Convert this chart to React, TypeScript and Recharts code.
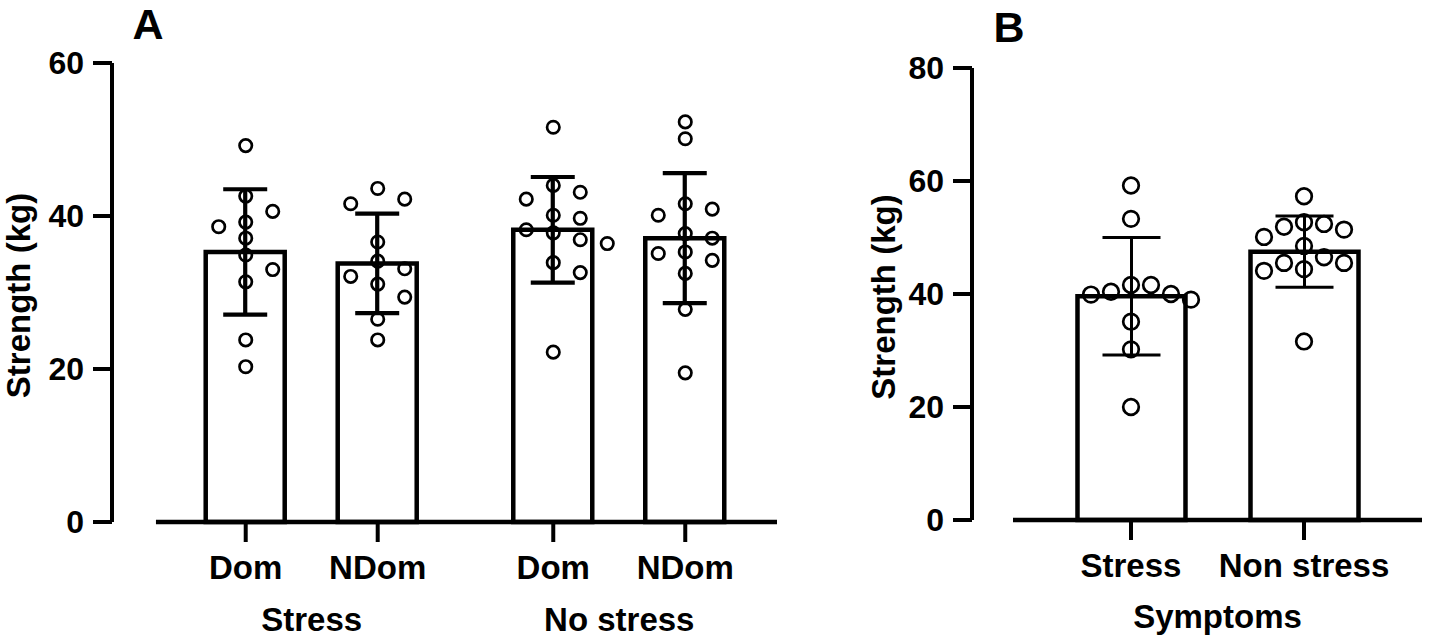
import { ComposedChart, Bar, ErrorBar, Scatter, XAxis, YAxis, ReferenceLine } from 'recharts';

const FONT = "'Liberation Sans', Arial, Helvetica, sans-serif";

// Panel A: grip strength, dominant / non-dominant hand, by stress group
const stressGroups = ['Stress', 'No stress'];
const handLabels = ['Dom', 'NDom'];
const panelAMeans = [35.3, 33.8, 38.2, 37.1];
const panelASd = [8.2, 6.5, 6.9, 8.5];
const stressDom = [49.2, 42.6, 40.6, 38.6, 39.2, 37.1, 34.9, 33.0, 31.4, 23.8, 20.3];
const stressNDom = [43.6, 42.2, 41.6, 36.6, 34.1, 33.1, 32.1, 31.1, 29.4, 26.5, 23.8];
const noStressDom = [51.6, 44.0, 43.1, 42.2, 40.1, 39.7, 38.2, 37.8, 36.9, 36.4, 33.9, 32.6, 22.2];
const noStressNDom = [52.3, 50.1, 41.6, 40.9, 40.1, 37.7, 37.1, 35.3, 35.1, 34.2, 32.5, 27.8, 19.5];

// Panel B: strength by symptoms
const symptomLabels = ['Stress', 'Non stress'];
const symptomTitle = 'Symptoms';
const panelBMeans = [39.6, 47.5];
const panelBSd = [10.4, 6.3];
const symptomStress = [59.2, 53.3, 41.6, 41.6, 40.4, 40.0, 39.9, 39.0, 35.1, 30.2, 20.0];
const symptomNonStress = [57.3, 52.7, 52.4, 51.9, 51.4, 50.1, 48.5, 46.5, 45.5, 45.5, 44.4, 44.1, 31.6];

const yLabel = 'Strength (kg)';

// simple beeswarm: horizontal pixel offsets so circles do not overlap
function swarm(values: number[], pxPerUnit: number, diam: number, step: number) {
  const order = values.map((_, i) => i).sort((a, b) => values[b] - values[a]);
  const placed: { x: number; y: number }[] = [];
  const dx = values.map(() => 0);
  for (const i of order) {
    const y = values[i] * pxPerUnit;
    for (let k = 0; k < 30; k++) {
      const cand = k === 0 ? 0 : (k % 2 === 1 ? 1 : -1) * Math.ceil(k / 2) * step;
      if (placed.every((p) => Math.hypot(p.x - cand, p.y - y) >= diam)) {
        dx[i] = cand;
        placed.push({ x: cand, y });
        break;
      }
    }
  }
  return dx;
}

const sameNum = (a: number, b: number) => Math.abs(a - b) < 1e-6;

interface PanelProps {
  left: number;
  width: number;
  margin: { top: number; right: number; bottom: number; left: number };
  yAxisWidth: number;
  yMax: number;
  yTicks: number[];
  positions: number[];
  tickLabels: string[];
  groupPositions: number[];
  groupLabels: string[];
  domain: [number, number];
  axisStart: number;
  means: number[];
  sds: number[];
  sets: number[][];
  barSize: number;
  capHalf: number;
  errWidth: number;
  dotR: number;
  step: number;
  yLabelX: number;
  groupMargin: number;
}

function AxisTitle({ viewBox, x }: any) {
  const cy = viewBox.y + viewBox.height / 2 + 3;
  return (
    <text
      x={x}
      y={cy}
      transform={`rotate(-90 ${x} ${cy})`}
      textAnchor="middle"
      dominantBaseline="central"
      fontFamily={FONT}
      fontWeight="bold"
      fontSize={33}
      fill="#000"
    >
      {yLabel}
    </text>
  );
}

function Panel(p: PanelProps) {
  const height = 637;
  const plotH = height - p.margin.top - p.margin.bottom - 110;
  const pxPerUnit = plotH / p.yMax;
  const bars = p.positions.map((pos, i) => ({ pos, mean: p.means[i], sd: p.sds[i] }));
  const points = p.sets.flatMap((vals, i) => {
    const dx = swarm(vals, pxPerUnit, p.dotR * 2 + 3, p.step);
    return vals.map((v, j) => ({ pos: p.positions[i], value: v, dx: dx[j] }));
  });
  const tickStyle = { fontFamily: FONT, fontWeight: 'bold', fill: '#000' };

  return (
    <div style={{ position: 'absolute', left: p.left, top: 0 }}>
      <ComposedChart width={p.width} height={height} data={bars} margin={p.margin}>
        <XAxis
          xAxisId="bars"
          type="number"
          dataKey="pos"
          domain={p.domain}
          allowDataOverflow
          ticks={p.positions}
          interval={0}
          tickFormatter={(v: number) => p.tickLabels[p.positions.findIndex((q) => sameNum(q, v))] ?? ''}
          axisLine={false}
          tickSize={20}
          tickLine={{ stroke: '#000', strokeWidth: 4 }}
          tickMargin={14}
          tick={{ ...tickStyle, fontSize: 33 }}
          height={60}
        />
        <XAxis
          xAxisId="groups"
          type="number"
          dataKey="pos"
          domain={p.domain}
          allowDataOverflow
          ticks={p.groupPositions}
          interval={0}
          tickFormatter={(v: number) => p.groupLabels[p.groupPositions.findIndex((q) => sameNum(q, v))] ?? ''}
          axisLine={false}
          tickLine={false}
          tickSize={0}
          tickMargin={p.groupMargin}
          tick={{ ...tickStyle, fontSize: 33 }}
          height={50}
        />
        <YAxis
          type="number"
          domain={[0, p.yMax]}
          ticks={p.yTicks}
          interval={0}
          width={p.yAxisWidth}
          axisLine={{ stroke: '#000', strokeWidth: 4 }}
          tickLine={{ stroke: '#000', strokeWidth: 4 }}
          tickSize={19}
          tickMargin={9}
          tick={{ ...tickStyle, fontSize: 32 }}
          label={{ content: (props: any) => <AxisTitle viewBox={props.viewBox} x={p.yLabelX} /> }}
        />
        <ReferenceLine
          xAxisId="bars"
          segment={[
            { x: p.axisStart, y: 0 },
            { x: p.domain[1], y: 0 },
          ]}
          stroke="#000"
          strokeWidth={4.5}
          ifOverflow="visible"
        />
        <Bar
          xAxisId="bars"
          dataKey="mean"
          barSize={p.barSize}
          fill="#fff"
          stroke="#000"
          strokeWidth={4.5}
          isAnimationActive={false}
        >
          <ErrorBar dataKey="sd" width={p.capHalf} stroke="#000" strokeWidth={p.errWidth} isAnimationActive={false} />
        </Bar>
        <Scatter
          xAxisId="bars"
          data={points}
          dataKey="value"
          isAnimationActive={false}
          shape={(s: any) => (
            <circle cx={s.cx + s.payload.dx} cy={s.cy} r={p.dotR} fill="none" stroke="#000" strokeWidth={2.7} />
          )}
        />
      </ComposedChart>
    </div>
  );
}

export default function App() {
  const gapA = 1.33;
  const posA = [0, 1, 1 + gapA + 0, 2 + gapA];
  const groupA = [0.5, 0.5 + 1 + gapA];
  const posB = [0, 1];
  const groupB = [0.5];

  return (
    <div style={{ position: 'absolute', left: 0, top: 0, width: 1429, height: 637, background: '#fff', fontFamily: FONT }}>
      <Panel
        left={0}
        width={800}
        margin={{ top: 63, right: 23, bottom: 5, left: 0 }}
        yAxisWidth={112}
        yMax={60}
        yTicks={[0, 20, 40, 60]}
        positions={posA}
        tickLabels={[handLabels[0], handLabels[1], handLabels[0], handLabels[1]]}
        groupPositions={groupA}
        groupLabels={stressGroups}
        domain={[-1.013, 4.025]}
        axisStart={-0.68}
        means={panelAMeans}
        sds={panelASd}
        sets={[stressDom, stressNDom, noStressDom, noStressNDom]}
        barSize={79}
        capHalf={22}
        errWidth={4.2}
        dotR={6.2}
        step={27}
        yLabelX={18}
        groupMargin={26}
      />
      <Panel
        left={840}
        width={589}
        margin={{ top: 68, right: 7, bottom: 7, left: 0 }}
        yAxisWidth={132}
        yMax={80}
        yTicks={[0, 20, 40, 60, 80]}
        positions={posB}
        tickLabels={symptomLabels}
        groupPositions={groupB}
        groupLabels={[symptomTitle]}
        domain={[-0.919, 1.682]}
        axisStart={-0.682}
        means={panelBMeans}
        sds={panelBSd}
        sets={[symptomStress, symptomNonStress]}
        barSize={108}
        capHalf={29}
        errWidth={3}
        dotR={7.8}
        step={20}
        yLabelX={43}
        groupMargin={25}
      />
      <svg width={1429} height={637} style={{ position: 'absolute', left: 0, top: 0, pointerEvents: 'none' }}>
        <text x={148} y={39} textAnchor="middle" fontFamily={FONT} fontWeight="bold" fontSize={43} fill="#000">
          A
        </text>
        <text x={1009} y={42} textAnchor="middle" fontFamily={FONT} fontWeight="bold" fontSize={43} fill="#000">
          B
        </text>
      </svg>
    </div>
  );
}
